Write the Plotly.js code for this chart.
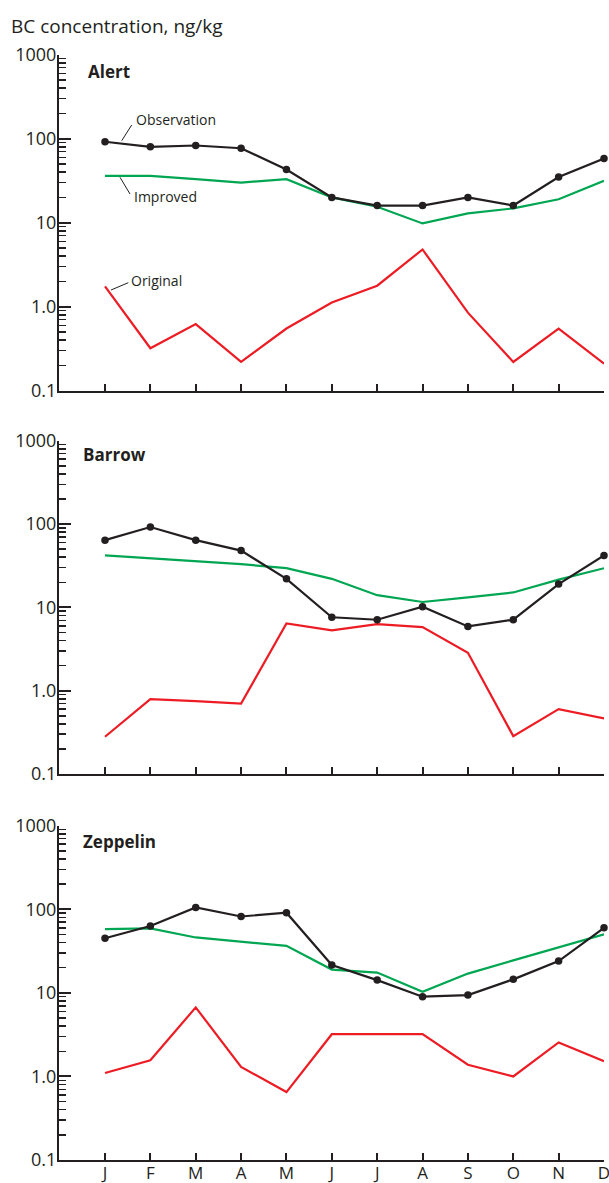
<!DOCTYPE html>
<html><head><meta charset="utf-8">
<script src="https://cdn.plot.ly/plotly-3.0.1.min.js"></script>
<style>html,body{margin:0;padding:0;background:#fff;overflow:hidden}</style>
</head><body><div id="chart" style="width:609px;height:1183px"></div>
<script>
// ---- data ----
const months = ['J','F','M','A','M','J','J','A','S','O','N','D'];
const stations = ['Alert','Barrow','Zeppelin'];

const alertObservation = [92, 80, 83, 77, 43, 20, 16, 16, 20, 16, 35, 58];
const alertImproved    = [36, 36, 33, 30, 33, 20, 15.5, 9.8, 12.9, 14.8, 19, 31.5];
const alertOriginal    = [1.75, 0.32, 0.62, 0.22, 0.55, 1.12, 1.78, 4.8, 0.85, 0.22, 0.55, 0.21];

const barrowObservation = [64, 92, 64, 48, 22, 7.6, 7.1, 10.2, 5.9, 7.1, 19, 42];
const barrowImproved    = [42, 39, 36, 33, 29.5, 22, 14, 11.6, 13.2, 15.1, 21.5, 29.5];
const barrowOriginal    = [0.28, 0.79, 0.75, 0.70, 6.4, 5.3, 6.3, 5.8, 2.85, 0.285, 0.6, 0.465];

const zeppelinObservation = [45, 63, 105, 82, 91, 21.5, 14.2, 9, 9.4, 14.5, 24, 60];
const zeppelinImproved    = [58, 59, 46, 41, 36.5, 19, 17.5, 10.3, 17, 24.5, 35, 50];
const zeppelinOriginal    = [1.1, 1.56, 6.7, 1.3, 0.65, 3.2, 3.2, 3.2, 1.38, 1.0, 2.55, 1.52];

// ---- layout geometry ----
const W = 609, H = 1183, L = 59, R = 604, T = 0, B = 23;
const panelTop = [54.7, 440.7, 825.7];
const panelBot = [390.7, 774, 1160];
const px = v => (v - L) / (R - L);
const py = v => 1 - (v - T) / (H - T - B);

const INK = '#231f20', GREEN = '#00a651', RED = '#ed1c24';
const FONT = 'Open Sans, Noto Sans, sans-serif';
const idx = months.map((m, i) => i);

const series = [
  [alertObservation, alertImproved, alertOriginal],
  [barrowObservation, barrowImproved, barrowOriginal],
  [zeppelinObservation, zeppelinImproved, zeppelinOriginal]
];

const traces = [];
series.forEach((s, p) => {
  const xa = p === 0 ? 'x' : 'x' + (p + 1);
  const ya = p === 0 ? 'y' : 'y' + (p + 1);
  traces.push({x: idx, y: s[2], xaxis: xa, yaxis: ya, type: 'scatter', mode: 'lines',
    line: {color: RED, width: 2.2}, cliponaxis: false, name: 'Original'});
  traces.push({x: idx, y: s[1], xaxis: xa, yaxis: ya, type: 'scatter', mode: 'lines',
    line: {color: GREEN, width: 2.2}, cliponaxis: false, name: 'Improved'});
  traces.push({x: idx, y: s[0], xaxis: xa, yaxis: ya, type: 'scatter', mode: 'lines+markers',
    line: {color: INK, width: 2.2}, marker: {color: INK, size: 7.5}, cliponaxis: false, name: 'Observation'});
});

const layout = {
  width: W, height: H,
  margin: {l: L, r: W - R, t: T, b: B},
  paper_bgcolor: '#fff', plot_bgcolor: 'rgba(0,0,0,0)',
  showlegend: false,
  font: {family: FONT, color: INK},
  annotations: [], shapes: []
};

for (let p = 0; p < 3; p++) {
  const sfx = p === 0 ? '' : String(p + 1);
  layout['xaxis' + sfx] = {
    domain: [0, 1], anchor: 'y' + sfx, range: [-1.014, 11],
    showline: true, linecolor: INK, linewidth: 2,
    ticks: 'inside', ticklen: 7, tickwidth: 2, tickcolor: INK,
    tickmode: 'array', tickvals: idx, ticktext: months,
    showticklabels: p === 2, ticklabeloverflow: 'allow', ticklabelstandoff: -3,
    tickfont: {family: FONT, size: 17, color: INK},
    showgrid: false, zeroline: false, fixedrange: true, automargin: false
  };
  layout['yaxis' + sfx] = {
    domain: [py(panelBot[p]), py(panelTop[p])], anchor: 'x' + sfx,
    type: 'log', range: [-1, 3],
    showline: true, linecolor: INK, linewidth: 2,
    ticks: 'inside', ticklen: 12, tickwidth: 2, tickcolor: INK,
    tickmode: 'linear', tick0: 0, dtick: 1, exponentformat: 'none',
    labelalias: {'1': '1.0'}, ticklabelstandoff: -3,
    minor: {ticks: 'inside', ticklen: 7, tickwidth: 1.5, tickcolor: INK, dtick: 'D1', showgrid: false},
    tickfont: {family: FONT, size: 18, color: INK},
    showgrid: false, zeroline: false, fixedrange: true, automargin: false
  };
}

// axis title
layout.annotations.push({xref: 'paper', yref: 'paper', x: px(9), y: py(26),
  xanchor: 'left', yanchor: 'middle', showarrow: false,
  text: 'BC concentration, ng/kg', font: {family: FONT, size: 19, color: INK}});

// station titles
const titlePos = [[86, 71.5], [81, 455], [81, 841.5]];
stations.forEach((s, p) => {
  layout.annotations.push({xref: 'paper', yref: 'paper', x: px(titlePos[p][0]), y: py(titlePos[p][1]),
    xanchor: 'left', yanchor: 'middle', showarrow: false,
    text: s, font: {family: FONT, size: 17, color: INK, weight: 700}});
});

// series labels with leader lines (Alert panel)
const labels = [
  {text: 'Observation', x: 134, y: 119, line: [121.7, 140.7, 131.7, 125]},
  {text: 'Improved', x: 131.7, y: 197, line: [120, 177.3, 130, 194]},
  {text: 'Original', x: 129.3, y: 280, line: [111, 290, 128.3, 282.7]}
];
labels.forEach(l => {
  layout.annotations.push({xref: 'paper', yref: 'paper', x: px(l.x), y: py(l.y),
    xanchor: 'left', yanchor: 'middle', showarrow: false,
    text: l.text, font: {family: FONT, size: 14, color: INK}});
  layout.shapes.push({type: 'line', xref: 'paper', yref: 'paper',
    x0: px(l.line[0]), y0: py(l.line[1]), x1: px(l.line[2]), y1: py(l.line[3]),
    line: {color: INK, width: 1}});
});

Plotly.newPlot('chart', traces, layout, {displayModeBar: false, staticPlot: true});
</script>
</body></html>
